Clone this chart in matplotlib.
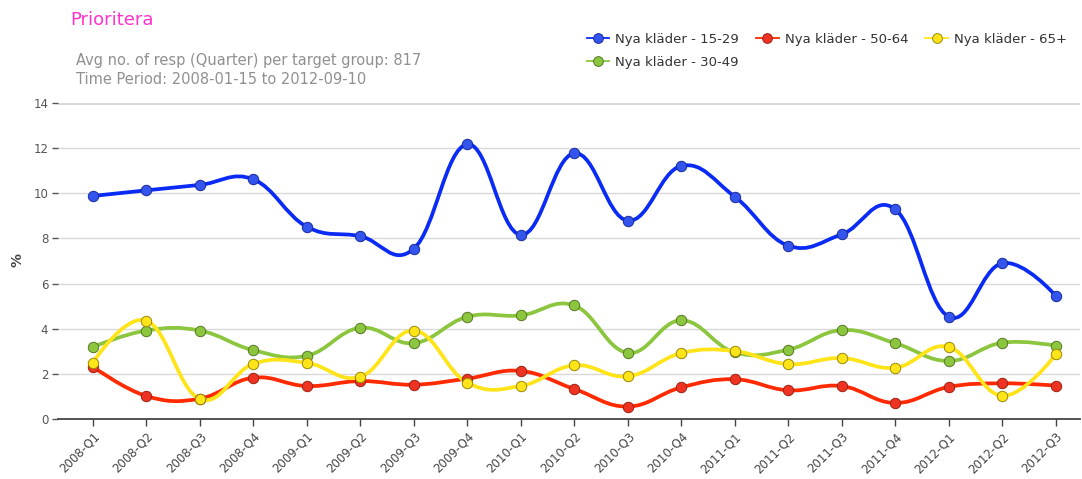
import numpy as np
import matplotlib
matplotlib.use("Agg")
import matplotlib.pyplot as plt
from matplotlib.path import Path
from matplotlib.patches import PathPatch
from matplotlib.lines import Line2D

categories = ["2008-Q1", "2008-Q2", "2008-Q3", "2008-Q4",
              "2009-Q1", "2009-Q2", "2009-Q3", "2009-Q4",
              "2010-Q1", "2010-Q2", "2010-Q3", "2010-Q4",
              "2011-Q1", "2011-Q2", "2011-Q3", "2011-Q4",
              "2012-Q1", "2012-Q2", "2012-Q3"]

age_15_29 = [9.88, 10.13, 10.37, 10.62, 8.52, 8.10, 7.54, 12.17, 8.16,
             11.77, 8.79, 11.21, 9.85, 7.68, 8.18, 9.29, 4.53, 6.90, 5.46]
age_30_49 = [3.19, 3.92, 3.92, 3.05, 2.80, 4.04, 3.36, 4.53, 4.59,
             5.03, 2.93, 4.37, 2.95, 3.07, 3.94, 3.36, 2.57, 3.38, 3.25]
age_50_64 = [2.32, 1.02, 0.90, 1.83, 1.46, 1.68, 1.52, 1.79, 2.13,
             1.33, 0.55, 1.40, 1.76, 1.27, 1.46, 0.71, 1.42, 1.58, 1.48]
age_65 = [2.49, 4.36, 0.89, 2.44, 2.49, 1.87, 3.92, 1.61, 1.46,
          2.38, 1.89, 2.92, 3.01, 2.43, 2.70, 2.27, 3.19, 1.03, 2.86]

series_names = ["Nya kläder - 15-29", "Nya kläder - 30-49",
                "Nya kläder - 50-64", "Nya kläder - 65+"]
series_values = [age_15_29, age_30_49, age_50_64, age_65]
line_colors = ["#0A2BF5", "#8CC63F", "#FF2A00", "#FFE419"]
marker_faces = ["#3355EE", "#8CC63F", "#EE3322", "#FFE419"]
marker_edges = ["#1A2A99", "#557722", "#992211", "#998800"]

title_text = "Prioritera"
subtitle_lines = ["Avg no. of resp (Quarter) per target group: 817",
                  "Time Period: 2008-01-15 to 2012-09-10"]
y_label = "%"
y_ticks = [0, 2, 4, 6, 8, 10, 12, 14]


def spline_path(xs, ys, smoothing=1.5):
    n = len(xs)
    denom = smoothing + 1
    lc = [None] * n
    rc = [None] * n
    for i in range(1, n - 1):
        x, y = xs[i], ys[i]
        lx, ly = xs[i - 1], ys[i - 1]
        nx, ny = xs[i + 1], ys[i + 1]
        lcx = (smoothing * x + lx) / denom
        lcy = (smoothing * y + ly) / denom
        rcx = (smoothing * x + nx) / denom
        rcy = (smoothing * y + ny) / denom
        corr = ((rcy - lcy) * (rcx - x)) / (rcx - lcx) + y - rcy
        lcy += corr
        rcy += corr
        lc[i] = (lcx, lcy)
        rc[i] = (rcx, rcy)
    verts = [(xs[0], ys[0])]
    codes = [Path.MOVETO]
    for i in range(1, n):
        c1 = rc[i - 1] if rc[i - 1] is not None else (xs[i - 1], ys[i - 1])
        c2 = lc[i] if lc[i] is not None else (xs[i], ys[i])
        verts += [c1, c2, (xs[i], ys[i])]
        codes += [Path.CURVE4] * 3
    return Path(verts, codes)


W, H = 1082, 479
fig = plt.figure(figsize=(W / 100, H / 100), dpi=100)
ax = fig.add_axes([58 / W, 1 - 419 / H, (1080 - 58) / W, (419 - 103) / H])

x = np.arange(len(categories))
x0, step = 92.7, 53.5
ax.set_xlim((58 - x0) / step, (1080 - x0) / step)
ax.set_ylim(0, 14)

# grid
for t in y_ticks[1:]:
    lw = 2.2 if t == 14 else 1.0
    ax.axhline(t, color="#D8D8D8", lw=lw, zorder=0)

for idx in range(4):
    vals = series_values[idx]
    path = spline_path(list(x.astype(float)), list(vals))
    ax.add_patch(PathPatch(path, fill=False, edgecolor=line_colors[idx],
                           lw=2.7, zorder=2 + idx * 0.1, capstyle="round",
                           joinstyle="round"))
for idx in range(4):
    ax.plot(x, series_values[idx], linestyle="none", marker="o", ms=7.5,
            mfc=marker_faces[idx], mec=marker_edges[idx], mew=0.7,
            zorder=3 + idx * 0.1)

for s in ["top", "right", "left"]:
    ax.spines[s].set_visible(False)
ax.spines["bottom"].set_color("#444444")
ax.spines["bottom"].set_linewidth(1.3)

ax.set_xticks(x)
ax.set_xticklabels(categories, rotation=45, ha="right", va="top",
                   rotation_mode="anchor", fontsize=8.5, color="#444444")
ax.tick_params(axis="x", length=5, width=1, color="#444444", pad=3)
ax.set_yticks(y_ticks)
ax.set_yticklabels([str(t) for t in y_ticks], fontsize=8.5, color="#555555")
ax.tick_params(axis="y", length=4, width=1, color="#555555", pad=3)

fig.text(17 / W, 1 - 260 / H, y_label, fontsize=10, fontweight="bold",
         color="#444444", rotation=90, ha="center", va="center")

fig.text(70 / W, 1 - 20 / H, title_text, fontsize=13, color="#FF33CC",
         ha="left", va="center")
fig.text(76 / W, 1 - 61 / H, subtitle_lines[0], fontsize=10.5,
         color="#909090", ha="left", va="center")
fig.text(76 / W, 1 - 80 / H, subtitle_lines[1], fontsize=10.5,
         color="#909090", ha="left", va="center")

# legend: row 1: 15-29, 50-64, 65+; row 2: 30-49
handles = []
for idx in range(4):
    handles.append(Line2D([0], [0], color=line_colors[idx], lw=1.3,
                          marker="o", ms=7, mfc=marker_faces[idx],
                          mec=marker_edges[idx], mew=0.7))
leg = fig.legend(handles, series_names,
                 ncol=3, loc="upper left",
                 bbox_to_anchor=(587 / W, 1 - 33 / H),
                 frameon=False, fontsize=9.5, handlelength=1.7,
                 handletextpad=0.45, columnspacing=1.3, labelspacing=0.75,
                 borderpad=0, borderaxespad=0)
for t in leg.get_texts():
    t.set_color("#333333")

fig.savefig("out.png", dpi=100)
